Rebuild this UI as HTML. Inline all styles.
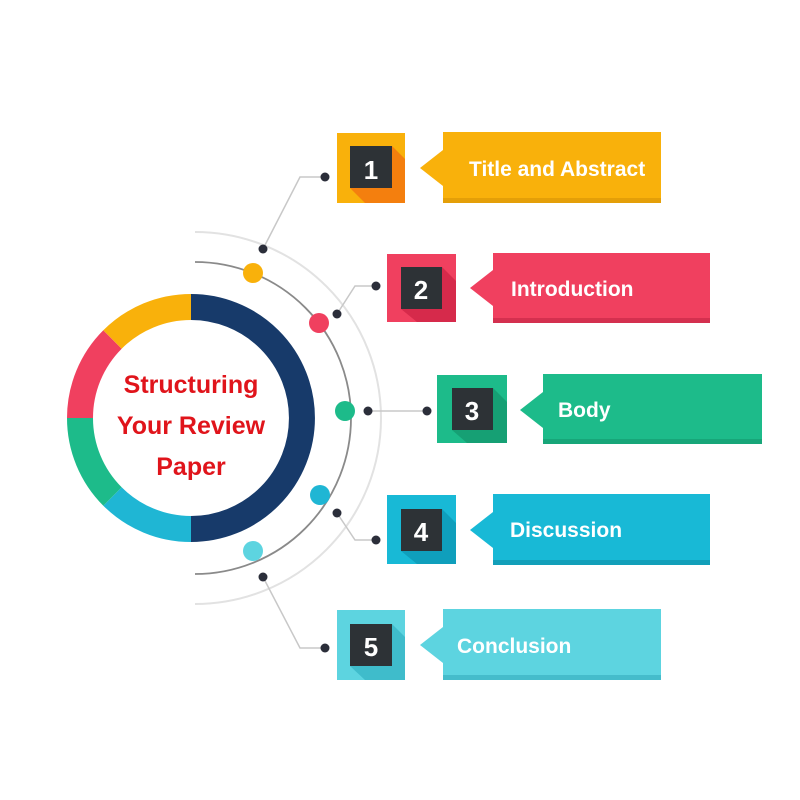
<!DOCTYPE html>
<html><head><meta charset="utf-8"><style>
html,body{margin:0;padding:0;background:#fff;}
svg{display:block;}
text{font-family:"Liberation Sans Narrow","Liberation Sans",sans-serif;font-weight:bold;}
</style></head><body>
<svg width="800" height="800" viewBox="0 0 800 800" xmlns="http://www.w3.org/2000/svg">
<rect width="800" height="800" fill="#fff"/>
<!-- outer faint arc -->
<path d="M195 232 A186 186 0 0 1 195 604" fill="none" stroke="#e2e2e2" stroke-width="2"/>
<!-- inner arc -->
<path d="M195 262 A156 156 0 0 1 195 574" fill="none" stroke="#8a8a8a" stroke-width="1.8"/>
<!-- connector lines -->
<g fill="none" stroke="#c8c8c8" stroke-width="1.5">
<polyline points="325,177 300,177 263,249"/>
<polyline points="376,286 355,286 337,314"/>
<line x1="368" y1="411" x2="427" y2="411"/>
<polyline points="337,513 355,540 376,540"/>
<polyline points="263,577 300,648 325,648"/>
</g>
<!-- ring -->
<g fill="none" stroke-width="26">
<path d="M191 307 A111 111 0 0 1 191 529" stroke="#173a6a"/>
<path d="M191 529 A111 111 0 0 1 112.5 496.5" stroke="#1fb6d4"/>
<path d="M112.5 496.5 A111 111 0 0 1 80 418" stroke="#1dbb8a"/>
<path d="M80 418 A111 111 0 0 1 112.5 339.5" stroke="#f0405f"/>
<path d="M112.5 339.5 A111 111 0 0 1 191 307" stroke="#f9b10b"/>
</g>
<text x="191" y="393" text-anchor="middle" font-size="25" fill="#e0141b">Structuring</text>
<text x="191" y="434" text-anchor="middle" font-size="25" fill="#e0141b">Your Review</text>
<text x="191" y="475" text-anchor="middle" font-size="25" fill="#e0141b">Paper</text>
<!-- colored dots on arc -->
<circle cx="253" cy="273" r="10" fill="#f9b10b"/>
<circle cx="319" cy="323" r="10" fill="#f0405f"/>
<circle cx="345" cy="411" r="10" fill="#1dbb8a"/>
<circle cx="320" cy="495" r="10" fill="#1fb6d4"/>
<circle cx="253" cy="551" r="10" fill="#5dd4e0"/>
<!-- black dots -->
<g fill="#2b2e3a">
<circle cx="325" cy="177" r="4.5"/><circle cx="263" cy="249" r="4.5"/>
<circle cx="376" cy="286" r="4.5"/><circle cx="337" cy="314" r="4.5"/>
<circle cx="368" cy="411" r="4.5"/><circle cx="427" cy="411" r="4.5"/>
<circle cx="337" cy="513" r="4.5"/><circle cx="376" cy="540" r="4.5"/>
<circle cx="263" cy="577" r="4.5"/><circle cx="325" cy="648" r="4.5"/>
</g>
<!-- items -->
<g>
<rect x="337" y="133" width="68" height="70" fill="#f9b10b"/>
<polygon points="392,146 405,159 405,203 365,203 350,188 392,188" fill="#f47f0e"/>
<rect x="350" y="146" width="42" height="42" fill="#2d3236"/>
<text x="371" y="179" text-anchor="middle" font-size="26" fill="#fff">1</text>
<polygon points="420,168 443,150 443,186" fill="#f9b10b"/>
<rect x="443" y="132" width="218" height="71" fill="#f9b10b"/>
<rect x="443" y="198" width="218" height="5" fill="#e49f08"/>
<text x="469" y="176" font-size="21" fill="#fff">Title and Abstract</text>
</g>
<g>
<rect x="387" y="254" width="69" height="68" fill="#f0405f"/>
<polygon points="442,267 456,281 456,322 417,322 401,309 442,309" fill="#d62a4b"/>
<rect x="401" y="267" width="41" height="42" fill="#2d3236"/>
<text x="421" y="299" text-anchor="middle" font-size="26" fill="#fff">2</text>
<polygon points="470,288 493,270 493,306" fill="#f0405f"/>
<rect x="493" y="253" width="217" height="70" fill="#f0405f"/>
<rect x="493" y="318" width="217" height="5" fill="#d4304f"/>
<text x="511" y="296" font-size="21" fill="#fff">Introduction</text>
</g>
<g>
<rect x="437" y="375" width="70" height="68" fill="#1dbb8a"/>
<polygon points="493,388 507,402 507,443 467,443 452,430 493,430" fill="#16a074"/>
<rect x="452" y="388" width="41" height="42" fill="#2d3236"/>
<text x="472" y="420" text-anchor="middle" font-size="26" fill="#fff">3</text>
<polygon points="520,410 543,392 543,428" fill="#1dbb8a"/>
<rect x="543" y="374" width="219" height="70" fill="#1dbb8a"/>
<rect x="543" y="439" width="219" height="5" fill="#17a679"/>
<text x="558" y="417" font-size="21" fill="#fff">Body</text>
</g>
<g>
<rect x="387" y="495" width="69" height="69" fill="#18b9d6"/>
<polygon points="442,509 456,523 456,564 417,564 401,551 442,551" fill="#0f9fbc"/>
<rect x="401" y="509" width="41" height="42" fill="#2d3236"/>
<text x="421" y="541" text-anchor="middle" font-size="26" fill="#fff">4</text>
<polygon points="470,530 493,512 493,548" fill="#18b9d6"/>
<rect x="493" y="494" width="217" height="71" fill="#18b9d6"/>
<rect x="493" y="560" width="217" height="5" fill="#129fb9"/>
<text x="510" y="537" font-size="21" fill="#fff">Discussion</text>
</g>
<g>
<rect x="337" y="610" width="68" height="70" fill="#5dd4e0"/>
<polygon points="392,624 405,637 405,680 365,680 350,666 392,666" fill="#3fbccb"/>
<rect x="350" y="624" width="42" height="42" fill="#2d3236"/>
<text x="371" y="656" text-anchor="middle" font-size="26" fill="#fff">5</text>
<polygon points="420,645 443,627 443,663" fill="#5dd4e0"/>
<rect x="443" y="609" width="218" height="71" fill="#5dd4e0"/>
<rect x="443" y="675" width="218" height="5" fill="#45bccb"/>
<text x="457" y="653" font-size="21" fill="#fff">Conclusion</text>
</g>
</svg>
</body></html>
